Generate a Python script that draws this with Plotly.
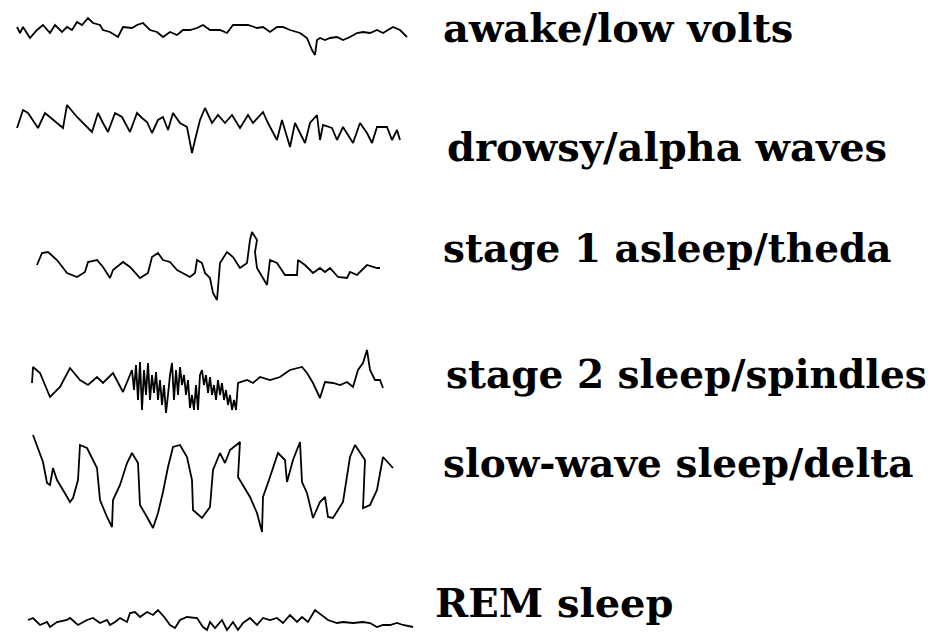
import plotly.graph_objects as go

# ---------------- data (time samples and amplitudes, up = positive) ----------------
labels = ["awake/low volts", "drowsy/alpha waves", "stage 1 asleep/theda",
          "stage 2 sleep/spindles", "slow-wave sleep/delta", "REM sleep"]

awake_t = [17,20,23,30,37,43,50,55,62,67,72,77,82,88,93,100,103,110,118,123,132,137,143,150,157,163,170,177,183,190,
           197,203,210,220,227,233,248,257,263,270,277,283,290,300,307,312,315,317,320,325,330,337,343,350,357,363,370,377,383,393,
           400,407]
awake_v = [3,-3,3,-8,0,5,-3,5,-2,3,0,8,5,12,7,5,0,-2,-7,3,2,5,7,0,-2,-7,-2,-5,0,0,
           2,5,0,0,-3,5,5,2,3,-2,3,3,0,-3,-8,-20,-25,-10,-8,-10,-8,-7,-10,-7,-3,-2,-3,0,-3,3,
           0,-7]

drowsy_t = [17,23,28,33,38,45,50,57,63,67,77,92,98,103,108,115,122,130,137,142,147,152,158,163,168,173,180,187,192,195,
            200,205,212,218,225,232,240,248,253,263,268,277,282,290,295,305,310,317,320,323,332,337,343,353,360,367,372,377,387,392,
            397,400]
drowsy_v = [-3,15,12,5,-3,12,8,2,-3,20,8,-7,12,2,-7,12,8,-7,12,7,3,-8,5,8,-5,12,2,-2,-28,-15,
            5,17,2,10,2,10,-3,10,2,13,2,-15,5,-22,2,-18,2,10,-15,0,-3,-15,-2,-18,2,-8,-18,-2,-2,-15,
            -5,-15]

stage1_t = [37,42,48,57,67,77,85,88,97,103,110,113,123,130,140,148,152,158,163,170,177,190,195,197,202,205,210,213,217,220,
            227,233,240,247,250,252,257,255,257,267,270,277,285,297,298,305,313,320,325,330,338,347,350,357,367,377,380]
stage1_v = [3,15,16,8,-5,-9,-4,6,8,1,-10,-2,6,1,-10,-5,11,15,8,6,-2,-9,-5,8,5,-5,-10,-25,-32,5,
            16,11,0,5,28,36,28,16,0,-17,8,5,-7,-7,8,3,-5,0,-4,0,-9,-10,-4,-7,3,0,0]

stage2_t = [32,33,40,50,60,70,80,88,97,103,113,123,
            132,134,136,138,140,142,144,146,148,150,152,154,156,158,160,162,164,166,168,170,172,174,176,178,180,182,184,186,
            188,190,192,194,196,198,200,202,204,206,208,210,212,214,216,218,220,222,224,226,228,230,232,234,236,238,
            247,253,260,270,280,290,302,307,313,320,325,333,340,347,353,358,363,367,370,375,380,383]
stage2_v = [0,16,10,-14,-4,15,3,-2,6,0,10,-9,
            13,-7,18,-17,21,-27,13,-12,20,-17,8,-10,11,-17,3,-22,-2,-30,-12,8,20,-17,13,-12,16,-2,8,-12,
            3,-25,-12,-27,-2,-27,8,13,-2,8,-10,6,-12,-2,-17,3,-12,0,-17,-7,-22,-12,-27,-17,-27,0,
            3,0,6,3,6,13,16,10,0,-15,1,0,-2,1,-4,13,20,33,13,3,3,-5]

delta_t = [33,43,47,50,53,57,63,70,73,78,80,87,97,100,107,112,113,120,127,132,138,140,147,153,158,163,168,173,180,187,
           192,193,202,210,213,220,225,230,240,238,250,257,262,263,270,278,285,287,293,300,302,307,313,320,325,328,333,343,350,355,
           365,363,370,377,383,393]
delta_v = [50,23,2,0,17,5,-5,-17,-13,5,40,37,17,-15,-32,-42,-15,0,22,32,22,-20,-32,-43,-28,-7,18,38,40,28,
           5,-25,-33,-22,15,32,22,35,43,8,-12,-28,-47,-12,8,32,25,3,25,43,3,-8,-33,-17,-12,-32,-33,-17,28,40,
           25,-23,-20,-5,28,17]

rem_t = [28,33,40,47,50,57,67,70,78,87,93,100,107,110,115,120,127,130,135,140,147,153,158,165,170,175,180,187,197,203,
         207,210,215,222,227,233,238,243,250,257,263,270,277,283,290,297,302,308,315,322,328,337,343,353,363,370,377,383,390,397,
         403,413]
rem_v = [0,2,-5,-2,-7,-2,0,2,-5,0,2,-3,0,-5,-2,2,-2,7,8,3,8,5,10,2,-5,-8,0,3,2,-7,
         -10,-2,-8,0,-10,-2,-10,-3,2,-5,2,0,2,-3,5,-2,3,-2,10,5,0,-3,-2,-3,-2,-3,-7,-5,-5,-3,
         -5,-7]

series_t = [awake_t, drowsy_t, stage1_t, stage2_t, delta_t, rem_t]
series_v = [awake_v, drowsy_v, stage1_v, stage2_v, delta_v, rem_v]

# ---------------- layout (positions / styles) ----------------
W, H = 938, 633
baselines = [30, 125, 268, 383, 485, 620]
label_x = [441, 445, 441, 444, 441, 433]
label_y = [27, 146, 248, 374, 463, 602]
label_size = [40, 40, 39, 39, 39, 40]

fig = go.Figure()
for t, v, b in zip(series_t, series_v, baselines):
    fig.add_trace(go.Scatter(x=t, y=[val - b for val in v], mode="lines",
                             line=dict(color="black", width=1.8),
                             hoverinfo="skip", showlegend=False))

for txt, lx, ly, fs in zip(labels, label_x, label_y, label_size):
    fig.add_annotation(x=lx, y=-ly, text=txt, showarrow=False,
                       xanchor="left", yanchor="middle",
                       font=dict(family="DejaVu Serif", size=fs, color="black", weight="bold"))

fig.update_layout(width=W, height=H,
                  margin=dict(l=0, r=0, t=0, b=0),
                  paper_bgcolor="white", plot_bgcolor="white",
                  xaxis=dict(range=[0, W], visible=False, fixedrange=True),
                  yaxis=dict(range=[-H, 0], visible=False, fixedrange=True))

# remove the default page margin so the figure fills the window exactly
fig.write_html("out.html", config={"displayModeBar": False, "staticPlot": True},
               post_script="document.body.style.margin='0';document.body.style.overflow='hidden';")
